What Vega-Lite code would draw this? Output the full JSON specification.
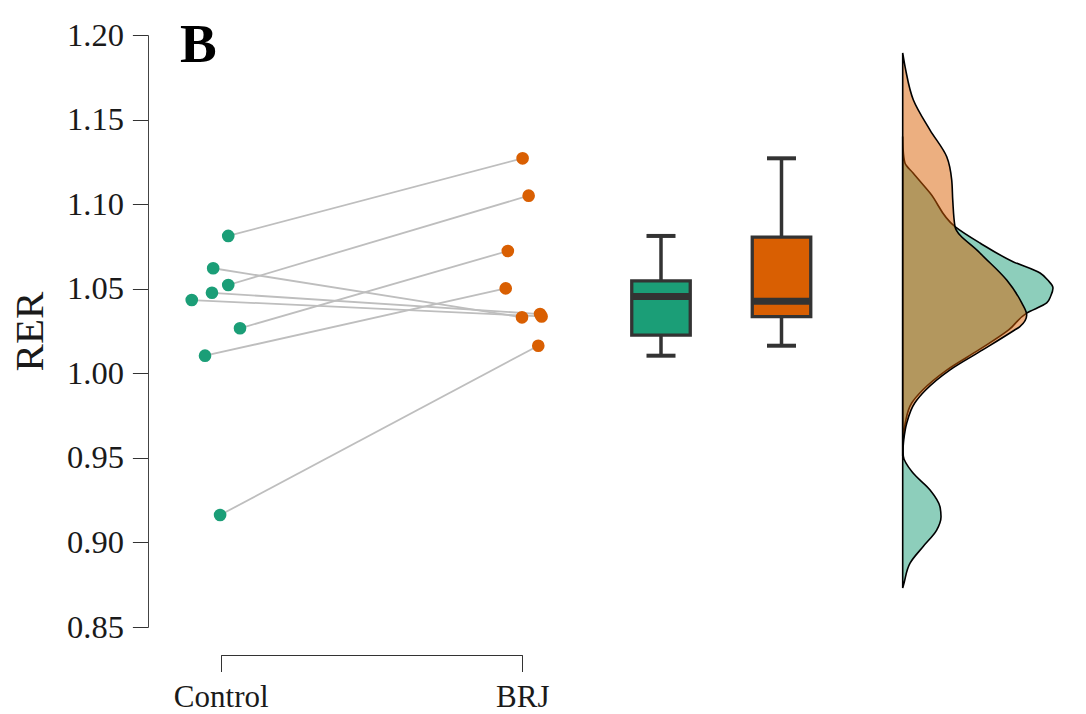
{
  "$schema": "https://vega.github.io/schema/vega-lite/v6.json",
  "width": 938,
  "height": 592,
  "autosize": {"type": "none"},
  "padding": {"left": 148, "top": 35, "right": 0, "bottom": 87},
  "background": "white",
  "config": {
    "view": {"stroke": null},
    "font": "Liberation Serif",
    "axis": {"labelFont": "Liberation Serif", "titleFont": "Liberation Serif", "grid": false}
  },
  "title": {
    "text": "B",
    "orient": "top",
    "anchor": "start",
    "frame": "group",
    "font": "Liberation Serif",
    "fontSize": 55,
    "fontWeight": "bold",
    "color": "#000000",
    "baseline": "alphabetic",
    "offset": 0,
    "dx": 32,
    "dy": 98
  },
  "datasets": {
    "pts": [
      {"id": 1, "group": "Control", "xj": 1.025, "rer": 1.0812},
      {"id": 2, "group": "Control", "xj": 1.025, "rer": 1.0522},
      {"id": 3, "group": "Control", "xj": 1.064, "rer": 1.0266},
      {"id": 4, "group": "Control", "xj": 0.948, "rer": 1.0104},
      {"id": 5, "group": "Control", "xj": 0.998, "rer": 0.9162},
      {"id": 6, "group": "Control", "xj": 0.975, "rer": 1.0621},
      {"id": 7, "group": "Control", "xj": 0.971, "rer": 1.0476},
      {"id": 8, "group": "Control", "xj": 0.904, "rer": 1.0433},
      {"id": 1, "group": "BRJ", "xj": 2.001, "rer": 1.1271},
      {"id": 2, "group": "BRJ", "xj": 2.021, "rer": 1.105},
      {"id": 3, "group": "BRJ", "xj": 1.952, "rer": 1.0723},
      {"id": 4, "group": "BRJ", "xj": 1.945, "rer": 1.0502},
      {"id": 5, "group": "BRJ", "xj": 2.053, "rer": 1.0163},
      {"id": 6, "group": "BRJ", "xj": 1.999, "rer": 1.0331},
      {"id": 7, "group": "BRJ", "xj": 2.059, "rer": 1.035},
      {"id": 8, "group": "BRJ", "xj": 2.064, "rer": 1.0336}
    ],
    "densControl": [
      {"rer": 0.873, "dens": 0},
      {"rer": 0.876, "dens": 0.009},
      {"rer": 0.8878, "dens": 0.049},
      {"rer": 0.8975, "dens": 0.135},
      {"rer": 0.9073, "dens": 0.226},
      {"rer": 0.9152, "dens": 0.255},
      {"rer": 0.9211, "dens": 0.248},
      {"rer": 0.931, "dens": 0.182},
      {"rer": 0.941, "dens": 0.069},
      {"rer": 0.9511, "dens": 0.004},
      {"rer": 0.956, "dens": 0.002},
      {"rer": 0.9606, "dens": 0.003},
      {"rer": 0.9706, "dens": 0.017},
      {"rer": 0.9824, "dens": 0.06},
      {"rer": 0.9901, "dens": 0.133},
      {"rer": 1.0019, "dens": 0.293},
      {"rer": 1.0138, "dens": 0.506},
      {"rer": 1.0256, "dens": 0.705},
      {"rer": 1.0356, "dens": 0.825},
      {"rer": 1.0416, "dens": 0.958},
      {"rer": 1.0457, "dens": 0.985},
      {"rer": 1.0504, "dens": 1.0},
      {"rer": 1.0551, "dens": 0.965},
      {"rer": 1.0593, "dens": 0.914},
      {"rer": 1.066, "dens": 0.734},
      {"rer": 1.077, "dens": 0.514},
      {"rer": 1.0867, "dens": 0.348},
      {"rer": 1.1066, "dens": 0.182},
      {"rer": 1.1184, "dens": 0.069},
      {"rer": 1.1243, "dens": 0.015},
      {"rer": 1.132, "dens": 0.003},
      {"rer": 1.14, "dens": 0}
    ],
    "densBRJ": [
      {"rer": 0.9511, "dens": 0},
      {"rer": 0.9606, "dens": 0.007},
      {"rer": 0.9706, "dens": 0.027},
      {"rer": 0.9824, "dens": 0.08},
      {"rer": 0.9901, "dens": 0.153},
      {"rer": 1.0019, "dens": 0.313},
      {"rer": 1.0138, "dens": 0.532},
      {"rer": 1.0256, "dens": 0.745},
      {"rer": 1.0275, "dens": 0.778},
      {"rer": 1.0345, "dens": 0.825},
      {"rer": 1.0416, "dens": 0.792},
      {"rer": 1.0551, "dens": 0.692},
      {"rer": 1.0711, "dens": 0.514},
      {"rer": 1.0867, "dens": 0.348},
      {"rer": 1.1024, "dens": 0.333},
      {"rer": 1.1143, "dens": 0.326},
      {"rer": 1.128, "dens": 0.293},
      {"rer": 1.1438, "dens": 0.182},
      {"rer": 1.1616, "dens": 0.071},
      {"rer": 1.1793, "dens": 0.02},
      {"rer": 1.1894, "dens": 0}
    ]
  },
  "encoding": {
    "y": {
      "field": "rer",
      "type": "quantitative",
      "scale": {"domain": [0.85, 1.2], "nice": false, "zero": false},
      "axis": {
        "title": "RER",
        "values": [0.85, 0.9, 0.95, 1.0, 1.05, 1.1, 1.15, 1.2],
        "format": ".2f",
        "labelFontSize": 32.5,
        "labelColor": "#1a1a1a",
        "labelPadding": 9,
        "tickSize": 15.6,
        "tickColor": "#333333",
        "tickWidth": 1,
        "domainColor": "#444444",
        "domainWidth": 1,
        "titleFontSize": 41,
        "titleFontWeight": "normal",
        "titleColor": "#1a1a1a",
        "titleAngle": 270,
        "titleBaseline": "alphabetic",
        "titleAlign": "center",
        "titleX": -106,
        "titleY": 296
      }
    }
  },
  "layer": [
    {
      "data": {"name": "pts"},
      "encoding": {
        "x": {
          "field": "xj",
          "type": "quantitative",
          "scale": {"domain": [1, 2], "range": [72.7, 374.3], "nice": false, "zero": false},
          "axis": {
            "title": null,
            "values": [1, 2],
            "labelExpr": "datum.value == 1 ? 'Control' : 'BRJ'",
            "labelFlush": false,
            "labelAlign": "center",
            "offset": 28,
            "tickSize": 16.5,
            "tickColor": "#333333",
            "domainColor": "#333333",
            "domainWidth": 1,
            "labelFontSize": 31,
            "labelColor": "#1a1a1a",
            "labelBaseline": "alphabetic",
            "labelPadding": 35
          }
        }
      },
      "layer": [
        {
          "mark": {"type": "line", "color": "#BEBEBE", "strokeWidth": 1.8},
          "encoding": {"detail": {"field": "id", "type": "nominal"}}
        },
        {
          "mark": {"type": "circle", "size": 160, "opacity": 1},
          "encoding": {
            "color": {
              "field": "group",
              "type": "nominal",
              "scale": {"domain": ["Control", "BRJ"], "range": ["#1B9E77", "#D95F02"]},
              "legend": null
            }
          }
        }
      ]
    },
    {
      "data": {"name": "pts"},
      "mark": {
        "type": "boxplot",
        "extent": 1.5,
        "outliers": false,
        "size": 58.5,
        "box": {"stroke": "#333333", "strokeWidth": 3.3, "opacity": 1},
        "median": {"color": "#333333", "thickness": 7, "opacity": 1},
        "rule": {"color": "#333333", "strokeWidth": 3.5, "opacity": 1},
        "ticks": {"color": "#333333", "size": 29, "thickness": 4, "opacity": 1}
      },
      "encoding": {
        "x": {
          "field": "group",
          "type": "nominal",
          "scale": {"type": "point", "domain": ["Control", "BRJ"], "range": [513, 633.5], "padding": 0},
          "axis": null
        },
        "color": {
          "field": "group",
          "type": "nominal",
          "scale": {"domain": ["Control", "BRJ"], "range": ["#1B9E77", "#D95F02"]},
          "legend": null
        }
      }
    },
    {
      "encoding": {
        "x": {
          "field": "dens",
          "type": "quantitative",
          "scale": {"domain": [0, 1], "range": [754.7, 905], "nice": false, "zero": false},
          "axis": null
        },
        "x2": {"datum": 0}
      },
      "layer": [
        {
          "data": {"name": "densControl"},
          "mark": {"type": "area", "orient": "horizontal", "interpolate": "monotone", "fill": "#1B9E77", "fillOpacity": 0.5, "stroke": "#000000", "strokeWidth": 1.6}
        },
        {
          "data": {"name": "densBRJ"},
          "mark": {"type": "area", "orient": "horizontal", "interpolate": "monotone", "fill": "#D95F02", "fillOpacity": 0.5, "stroke": "#000000", "strokeWidth": 1.6}
        }
      ]
    }
  ],
  "resolve": {"scale": {"x": "independent"}, "axis": {"x": "independent"}}
}
